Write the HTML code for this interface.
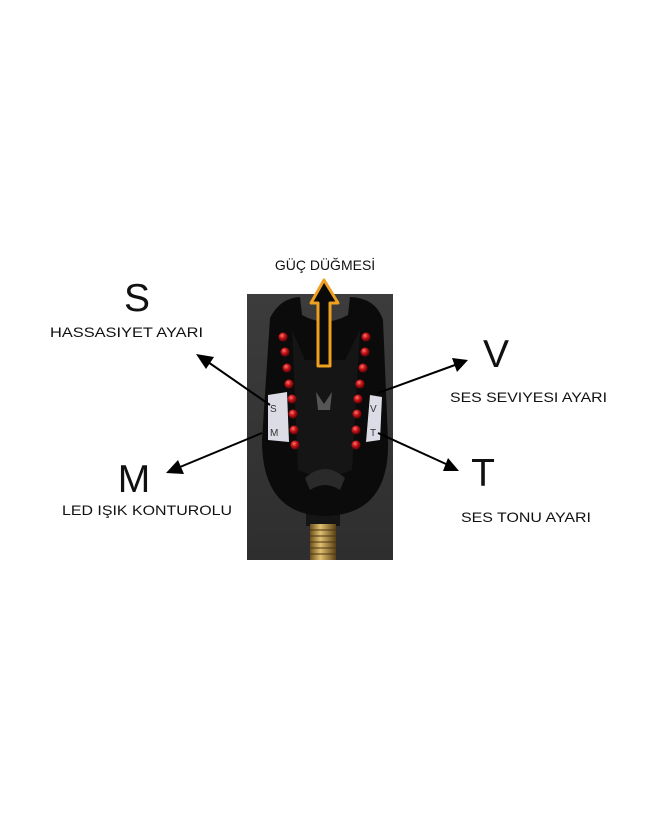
<!DOCTYPE html>
<html><head><style>
html,body{margin:0;padding:0;background:#fff;}
svg{display:block;}
text{font-family:"Liberation Sans",Arial,sans-serif;fill:#111;}
</style></head><body>
<svg width="645" height="820" viewBox="0 0 645 820" xmlns="http://www.w3.org/2000/svg">
<defs>
<linearGradient id="bg" x1="0" y1="0" x2="0" y2="1"><stop offset="0" stop-color="#3c3c3c"/><stop offset="1" stop-color="#2e2e2e"/></linearGradient>
<linearGradient id="brass" x1="0" x2="1"><stop offset="0" stop-color="#6b4f1d"/><stop offset="0.4" stop-color="#e0c070"/><stop offset="1" stop-color="#5a4015"/></linearGradient>
<radialGradient id="led" cx="0.4" cy="0.35" r="0.6"><stop offset="0" stop-color="#ff7a6a"/><stop offset="0.5" stop-color="#c8141a"/><stop offset="1" stop-color="#6a0508"/></radialGradient>
</defs>
<rect x="247" y="294" width="146" height="266" fill="url(#bg)"/>
<rect x="306" y="512" width="34" height="14" fill="#151515"/>
<rect x="310" y="524" width="26" height="36" fill="url(#brass)"/>
<g stroke="#4a3510" stroke-width="1"><line x1="310" y1="530" x2="336" y2="530"/><line x1="310" y1="536" x2="336" y2="536"/><line x1="310" y1="542" x2="336" y2="542"/><line x1="310" y1="548" x2="336" y2="548"/><line x1="310" y1="554" x2="336" y2="554"/></g>
<path d="M270 318 Q280 298 300 297 L302 315 Q325 328 348 315 L350 297 Q376 298 383 320 L388 440 Q390 515 325 516 Q262 515 262 440 Z" fill="#0b0b0b"/>
<path d="M268 395 L287 392 L289 442 L268 440 Z" fill="#dcdce6"/>
<path d="M370 395 L382 397 L380 440 L366 442 Z" fill="#dcdce6"/>
<text x="270" y="412" font-size="10" style="fill:#333">S</text>
<text x="270" y="436" font-size="10" style="fill:#333">M</text>
<text x="370" y="412" font-size="10" style="fill:#333">V</text>
<text x="370" y="436" font-size="10" style="fill:#333">T</text>
<path d="M292 330 L305 360 L345 360 L360 330 L352 470 L325 480 L298 470 Z" fill="#151515"/>
<path d="M316 392 L324 404 L332 392 L330 410 L318 410 Z" fill="#555"/>
<path d="M305 478 Q325 460 345 478 L340 490 Q325 480 310 490 Z" fill="#2a2a2a"/>
<g fill="url(#led)">
<circle cx="283" cy="337" r="4.5"/><circle cx="285" cy="352" r="4.5"/><circle cx="287" cy="368" r="4.5"/><circle cx="289" cy="384" r="4.5"/><circle cx="292" cy="399" r="4.5"/><circle cx="293" cy="414" r="4.5"/><circle cx="294" cy="430" r="4.5"/><circle cx="295" cy="445" r="4.5"/>
<circle cx="366" cy="337" r="4.5"/><circle cx="365" cy="352" r="4.5"/><circle cx="363" cy="368" r="4.5"/><circle cx="360" cy="384" r="4.5"/><circle cx="358" cy="399" r="4.5"/><circle cx="357" cy="414" r="4.5"/><circle cx="356" cy="430" r="4.5"/><circle cx="356" cy="445" r="4.5"/>
</g>
<path d="M318 366 L318 303 L311 303 L324 280 L338 303 L330 303 L330 366 Z" fill="#0a0a0a" stroke="#f0a020" stroke-width="3" stroke-linejoin="round"/>
<g stroke="#000" stroke-width="2">
<line x1="270" y1="405" x2="208" y2="362"/>
<line x1="262" y1="433" x2="180" y2="467"/>
<line x1="378" y1="393" x2="455" y2="365"/>
<line x1="378" y1="433" x2="446" y2="464"/>
</g>
<g fill="#000">
<polygon points="196,354 214,357 206,369"/>
<polygon points="166,473 178,460 184,474"/>
<polygon points="468,360 452,358 457,372"/>
<polygon points="459,471 448,458 443,471"/>
</g>
<text x="325" y="270" font-size="14" text-anchor="middle">GÜÇ DÜĞMESİ</text>
<text x="137" y="311" font-size="39" text-anchor="middle">S</text>
<text x="50" y="337" font-size="14" textLength="153" lengthAdjust="spacingAndGlyphs">HASSASIYET  AYARI</text>
<text x="496" y="367" font-size="39" text-anchor="middle">V</text>
<text x="450" y="402" font-size="14" textLength="157" lengthAdjust="spacingAndGlyphs">SES SEVIYESI AYARI</text>
<text x="134" y="492" font-size="39" text-anchor="middle">M</text>
<text x="62" y="515" font-size="14" textLength="170" lengthAdjust="spacingAndGlyphs">LED IŞIK KONTUROLU</text>
<text x="483" y="486" font-size="39" text-anchor="middle">T</text>
<text x="461" y="522" font-size="14" textLength="130" lengthAdjust="spacingAndGlyphs">SES TONU AYARI</text>
</svg>
</body></html>
